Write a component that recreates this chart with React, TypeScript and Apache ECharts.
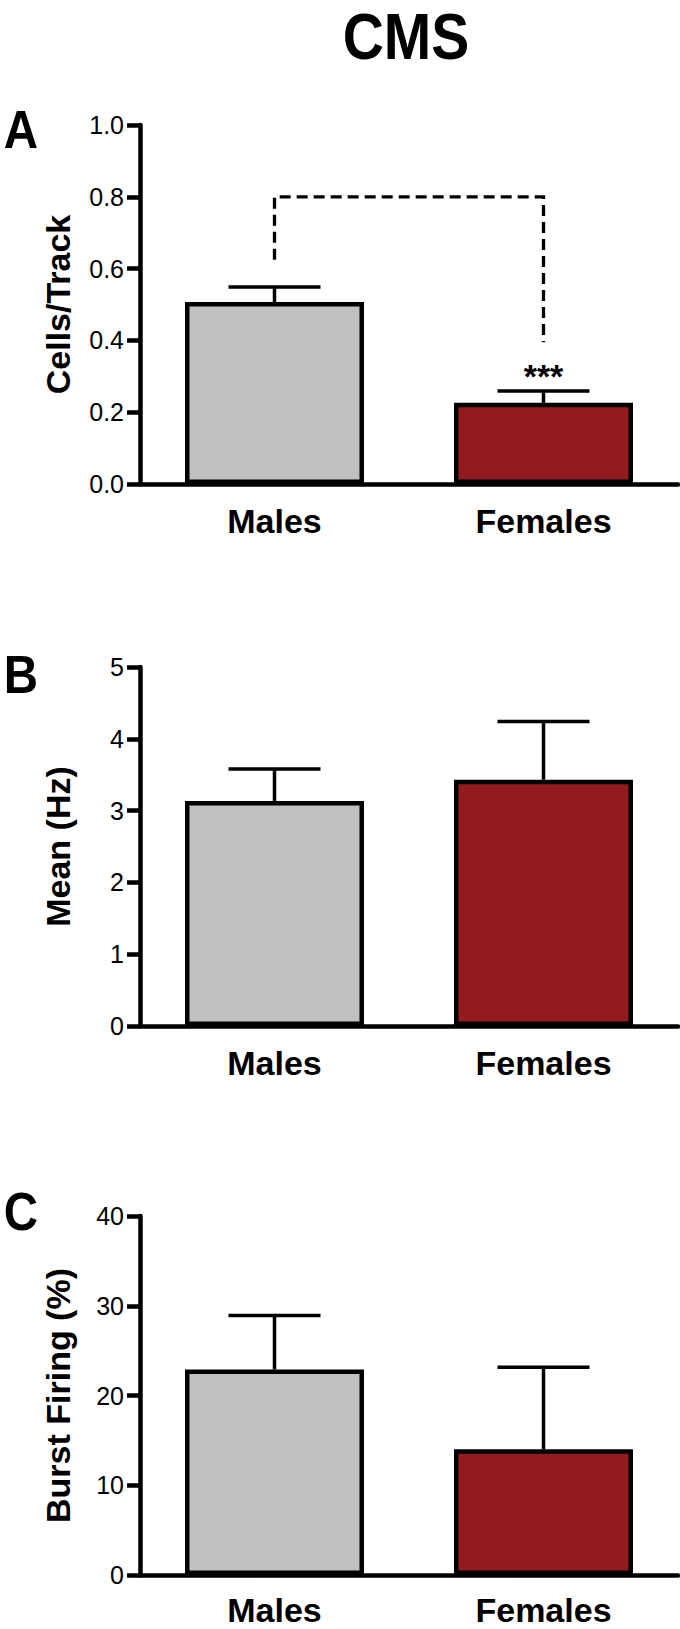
import React, { useEffect, useRef } from "react";
import * as echarts from "echarts";

// ---- data ----
const categories = ["Males", "Females"];
const barColors = ["#c0c0c0", "#931a1f"];

const cellsMean = [0.507, 0.226];
const cellsSem = [0.042, 0.033];

const hzMean = [3.135, 3.43];
const hzSem = [0.445, 0.81];

const burstMean = [22.9, 14.0];
const burstSem = [6.0, 9.15];

const yNames = ["Cells/Track", "Mean (Hz)", "Burst Firing (%)"];
const yMax = [1, 5, 40];
const yInterval = [0.2, 1, 10];
const yDecimals = [1, 0, 0];
const panelLetters = ["A", "B", "C"];
const titleText = "CMS";

// significance bracket in panel A: [fromCat, fromY, toCat, toY, topY]
const bracketA = [0, 0.625, 1, 0.395, 0.8];
// significance mark in panel A: [cat, y, text]
const sigMarkA: [number, number, string] = [1, 0.3, "***"];

const FONT = '"Liberation Sans", Arial, Helvetica, sans-serif';

export default function App() {
  const ref = useRef<HTMLDivElement>(null);

  useEffect(() => {
    document.body.style.margin = "0";
    const chart = echarts.init(ref.current!, null, { renderer: "svg" });

    const gridTops = [125, 667, 1216];
    const gridH = 359;
    const labelMargins = [23, 23, 21];
    const means = [cellsMean, hzMean, burstMean];
    const sems = [cellsSem, hzSem, burstSem];

    const grids = gridTops.map((t) => ({ left: 140, right: 2, top: t, height: gridH }));

    const xAxes = gridTops.map((_, i) => ({
      type: "category",
      gridIndex: i,
      data: categories,
      axisLine: { lineStyle: { color: "#000", width: 4.5 } },
      axisTick: { alignWithLabel: true, length: 12, lineStyle: { color: "#000", width: 4.5 } },
      axisLabel: {
        color: "#000",
        fontFamily: FONT,
        fontWeight: "bold",
        fontSize: 34,
        lineHeight: 28,
        margin: labelMargins[i],
      },
      splitLine: { show: false },
    }));

    const yAxes = gridTops.map((_, i) => ({
      type: "value",
      gridIndex: i,
      min: 0,
      max: yMax[i],
      interval: yInterval[i],
      name: yNames[i],
      nameLocation: "middle",
      nameGap: 65,
      nameTextStyle: { color: "#000", fontFamily: FONT, fontWeight: "bold", fontSize: 34 },
      axisLine: { show: true, lineStyle: { color: "#000", width: 4.5 } },
      axisTick: { show: true, length: 13, lineStyle: { color: "#000", width: 4.5 } },
      axisLabel: {
        color: "#000",
        fontFamily: FONT,
        fontSize: 25,
        margin: 16,
        formatter: (v: number) => v.toFixed(yDecimals[i]),
      },
      splitLine: { show: false },
    }));

    const series: any[] = [];
    means.forEach((m, i) => {
      series.push({
        type: "bar",
        xAxisIndex: i,
        yAxisIndex: i,
        barWidth: 179,
        data: m.map((v, k) => ({
          value: v,
          itemStyle: { color: barColors[k], borderColor: "#000", borderWidth: 4.5 },
        })),
        z: 3,
      });
      series.push({
        type: "custom",
        xAxisIndex: i,
        yAxisIndex: i,
        encode: { x: 0, y: 1 },
        data: m.map((v, k) => [k, v, sems[i][k]]),
        z: 2,
        renderItem: (_p: any, api: any) => {
          const x = api.value(0);
          const mv = api.value(1);
          const e = api.value(2);
          const b = api.coord([x, mv]);
          const t = api.coord([x, mv + e]);
          const hw = 46;
          return {
            type: "group",
            children: [
              {
                type: "line",
                shape: { x1: b[0], y1: b[1], x2: t[0], y2: t[1] },
                style: { stroke: "#000", lineWidth: 3.5 },
              },
              {
                type: "line",
                shape: { x1: t[0] - hw, y1: t[1], x2: t[0] + hw, y2: t[1] },
                style: { stroke: "#000", lineWidth: 3.5 },
              },
            ],
          };
        },
      });
    });

    // significance bracket (panel A)
    series.push({
      type: "custom",
      xAxisIndex: 0,
      yAxisIndex: 0,
      encode: { x: 0, y: 1 },
      data: [bracketA],
      z: 4,
      renderItem: (_p: any, api: any) => {
        const p1 = api.coord([api.value(0), api.value(1)]);
        const p2 = api.coord([api.value(0), api.value(4)]);
        const p3 = api.coord([api.value(2), api.value(4)]);
        const p4 = api.coord([api.value(2), api.value(3)]);
        return {
          type: "polyline",
          shape: { points: [p1, p2, p3, p4] },
          style: { stroke: "#000", lineWidth: 3.3, fill: "none", lineDash: [11, 6] },
        };
      },
    });
    series.push({
      type: "custom",
      xAxisIndex: 0,
      yAxisIndex: 0,
      encode: { x: 0, y: 1 },
      data: [sigMarkA],
      z: 4,
      renderItem: (_p: any, api: any) => {
        const p = api.coord([api.value(0), api.value(1)]);
        return {
          type: "text",
          x: p[0],
          y: p[1],
          style: {
            text: sigMarkA[2],
            fill: "#000",
            font: `bold 34px ${FONT}`,
            align: "center",
            verticalAlign: "middle",
          },
        };
      },
    });

    const letterY = [129, 674, 1211];
    const graphic: any[] = [
      {
        type: "text",
        x: 406,
        y: 37,
        scaleX: 0.89,
        style: {
          text: titleText,
          fill: "#000",
          font: `bold 64px ${FONT}`,
          align: "center",
          verticalAlign: "middle",
        },
      },
      ...panelLetters.map((l, i) => ({
        type: "text",
        x: 21,
        y: letterY[i],
        scaleX: 0.88,
        style: {
          text: l,
          fill: "#000",
          font: `bold 54px ${FONT}`,
          align: "center",
          verticalAlign: "middle",
        },
      })),
    ];

    chart.setOption({
      animation: false,
      backgroundColor: "#fff",
      grid: grids,
      xAxis: xAxes,
      yAxis: yAxes,
      series,
      graphic,
    });

    return () => chart.dispose();
  }, []);

  return <div ref={ref} style={{ width: 680, height: 1629 }} />;
}
